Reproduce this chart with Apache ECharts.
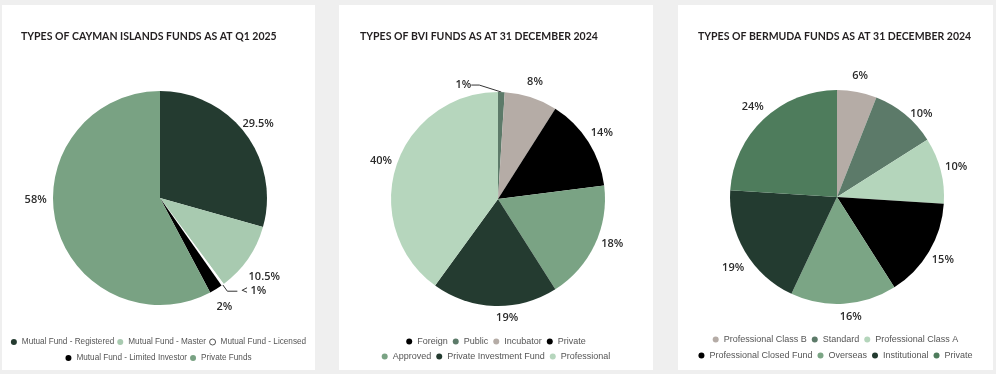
<!DOCTYPE html>
<html>
<head>
<meta charset="utf-8">
<script src="https://cdn.jsdelivr.net/npm/echarts@6/dist/echarts.min.js"></script>
<style>
  html, body { margin: 0; padding: 0; background: #efefef; width: 996px; height: 374px; overflow: hidden; }
  .panel { position: absolute; background: #ffffff; }
</style>
</head>
<body>
<div id="p1" class="panel" style="left:2px;top:5px;width:313px;height:365px;"></div>
<div id="p2" class="panel" style="left:339px;top:5px;width:314px;height:365px;"></div>
<div id="p3" class="panel" style="left:678px;top:5px;width:315px;height:365px;"></div>
<script>
// ---------- DATA ----------
const caymanTitle = 'TYPES OF CAYMAN ISLANDS FUNDS AS AT Q1 2025';
const caymanNames = ['Mutual Fund - Registered', 'Mutual Fund - Master', 'Mutual Fund - Licensed', 'Mutual Fund - Limited Investor', 'Private Funds'];
const caymanValues = [29.5, 10.5, 0.4, 2, 58];
const caymanLabels = ['29.5%', '10.5%', '< 1%', '2%', '58%'];

const bviTitle = 'TYPES OF BVI FUNDS AS AT 31 DECEMBER 2024';
const bviNames = ['Foreign', 'Public', 'Incubator', 'Private', 'Approved', 'Private Investment Fund', 'Professional'];
const bviValues = [0, 1, 8, 14, 18, 19, 40];
const bviLabels = ['', '1%', '8%', '14%', '18%', '19%', '40%'];

const bermudaTitle = 'TYPES OF BERMUDA FUNDS AS AT 31 DECEMBER 2024';
const bermudaNames = ['Professional Class B', 'Standard', 'Professional Class A', 'Professional Closed Fund', 'Overseas', 'Institutional', 'Private'];
const bermudaValues = [6, 10, 10, 15, 16, 19, 24];
const bermudaLabels = ['6%', '10%', '10%', '15%', '16%', '19%', '24%'];

// ---------- STYLES ----------
const caymanColors = ['#243b30', '#a8cab0', '#ffffff', '#000000', '#79a283'];
const bviColors = ['#000000', '#5c7a69', '#b5aca6', '#000000', '#7aa384', '#243b30', '#b6d6bd'];
const bermudaColors = ['#b5aca6', '#5c7a69', '#b4d5bb', '#000000', '#7ba585', '#233b30', '#4e7c5c'];

const caymanRows = [[0, 1, 2], [3, 4]];
const bviRows = [[0, 1, 2, 3], [4, 5, 6]];
const bermudaRows = [[0, 1, 2], [3, 4, 5, 6]];

const TITLE_FONT = "'Lato', 'Roboto', sans-serif";
const LABEL_FONT = "'Open Sans', 'Liberation Sans', sans-serif";
const LEGEND_FONT = "'Liberation Sans', Arial, sans-serif";

function buildChart(elId, cfg) {
  const chart = echarts.init(document.getElementById(elId), null, { renderer: 'canvas' });
  const mainData = cfg.names.map((name, i) => {
    const item = { name: name, value: cfg.values[i], itemStyle: { color: cfg.colors[i] } };
    if (cfg.lineLabel && cfg.lineLabel.index === i) {
      item.label = {
        show: true, position: 'outside', formatter: cfg.labels[i],
        fontFamily: LABEL_FONT, fontSize: 11, fontWeight: 600, color: '#2b2b2b',
        distanceToLabelLine: 4
      };
      item.labelLine = { show: true, length: cfg.lineLabel.length, length2: cfg.lineLabel.length2, lineStyle: { color: '#333333', width: 1 } };
    }
    return item;
  });
  const ringData = cfg.names.map((name, i) => ({
    name: name, value: cfg.values[i],
    label: { show: !!cfg.labels[i] && !(cfg.lineLabel && cfg.lineLabel.index === i), formatter: cfg.labels[i] }
  }));
  const legendData = (row) => row.map(i => {
    const d = { name: cfg.names[i] };
    if (cfg.colors[i] === '#ffffff') d.itemStyle = { color: '#ffffff', borderColor: '#555555', borderWidth: 1 };
    return d;
  });
  const legends = cfg.rows.map((row, r) => ({
    data: legendData(row),
    left: 'center', top: cfg.legendTops[r], padding: 0,
    orient: 'horizontal', icon: 'circle',
    itemWidth: 6, itemHeight: 6, itemGap: cfg.legendGap,
    textStyle: { fontFamily: LEGEND_FONT, fontSize: cfg.legendFont, color: '#555555' },
    selectedMode: false
  }));
  const option = {
    animation: false,
    title: {
      text: cfg.title, left: cfg.titleLeft, top: 21,
      textStyle: { fontFamily: TITLE_FONT, fontSize: 10.5, fontWeight: 'bold', color: '#231f20' }
    },
    legend: legends,
    series: [
      {
        type: 'pie', radius: [0, 107], center: cfg.center,
        startAngle: 90, clockwise: true, avoidLabelOverlap: false,
        label: { show: false }, labelLine: { show: false },
        emphasis: { disabled: true },
        labelLayout: cfg.lineShift ? function (p) {
          if (p.dataIndex !== cfg.lineLabel.index) return {};
          return {
            x: p.labelRect.x + cfg.lineShift[0],
            y: p.labelRect.y + p.labelRect.height / 2 + cfg.lineShift[1]
          };
        } : null,
        data: mainData, z: 2
      },
      {
        type: 'pie', radius: [108, 132], center: cfg.center,
        startAngle: 90, clockwise: true, silent: true, legendHoverLink: false,
        avoidLabelOverlap: false,
        itemStyle: { color: 'rgba(0,0,0,0)' },
        label: { position: 'inside', fontFamily: LABEL_FONT, fontSize: 11, fontWeight: 600, color: '#2b2b2b' },
        labelLine: { show: false },
        emphasis: { disabled: true },
        labelLayout: function (p) {
          const nudge = cfg.nudge && cfg.nudge[p.dataIndex];
          return nudge ? { dx: nudge[0], dy: nudge[1] } : {};
        },
        data: ringData, z: 3
      }
    ]
  };
  chart.setOption(option);
  return chart;
}

buildChart('p1', {
  title: caymanTitle, titleLeft: 14, names: caymanNames, values: caymanValues, labels: caymanLabels,
  colors: caymanColors, rows: caymanRows, legendTops: [333, 349], legendGap: 3, legendFont: 8.2,
  center: [158, 193],
  lineLabel: { index: 2, length: 8, length2: 10 },
  nudge: { 1: [3, 9], 3: [0, 4], 4: [-5, -28] }
});

buildChart('p2', {
  title: bviTitle, titleLeft: 16, names: bviNames, values: bviValues, labels: bviLabels,
  colors: bviColors, rows: bviRows, legendTops: [332, 347], legendGap: 5, legendFont: 9,
  center: [159, 194],
  lineLabel: { index: 1, length: 4, length2: 8 },
  lineShift: [-58, -3],
  nudge: { 2: [-1, 0], 4: [3, -8], 5: [13, -4] }
});

buildChart('p3', {
  title: bermudaTitle, titleLeft: 15, names: bermudaNames, values: bermudaValues, labels: bermudaLabels,
  colors: bermudaColors, rows: bermudaRows, legendTops: [330, 346], legendGap: 5, legendFont: 9,
  center: [159, 192],
  nudge: { 1: [6, 12], 4: [6, -3], 5: [2, 8] }
});
</script>
</body>
</html>
